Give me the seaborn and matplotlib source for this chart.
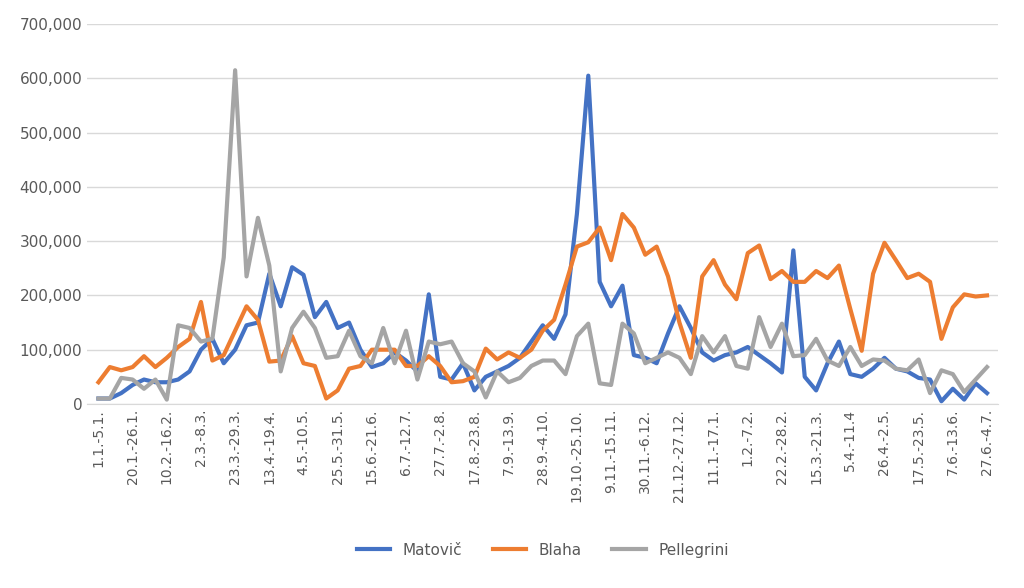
import matplotlib
matplotlib.use("Agg")
import matplotlib.pyplot as plt
import seaborn as sns
import pandas as pd
from matplotlib.ticker import FuncFormatter

tick_labels = ["1.1.-5.1.","20.1.-26.1.","10.2.-16.2.","2.3.-8.3.","23.3.-29.3.","13.4.-19.4.",
    "4.5.-10.5.","25.5.-31.5.","15.6.-21.6.","6.7.-12.7.","27.7.-2.8.","17.8.-23.8.","7.9.-13.9.",
    "28.9.-4.10.","19.10.-25.10.","9.11.-15.11.","30.11.-6.12.","21.12.-27.12.","11.1.-17.1.",
    "1.2.-7.2.","22.2.-28.2.","15.3.-21.3.","5.4.-11.4","26.4.-2.5.","17.5.-23.5.","7.6.-13.6.","27.6.-4.7."]

matovic = [10,10,20,35,45,40,40,45,60,100,120,75,100,145,150,240,180,252,238,160,188,140,150,100,68,75,95,80,60,202,
           50,45,75,25,50,60,70,85,115,145,120,165,350,605,225,180,218,90,85,75,130,180,140,95,80,90,95,105,90,75,
           58,283,50,25,75,115,55,50,65,85,65,60,48,45,5,28,8,38,20]
blaha = [40,68,62,68,88,68,85,105,120,188,80,90,135,180,155,78,80,125,75,70,10,25,65,70,100,100,100,70,70,88,
         70,40,42,50,102,82,95,85,100,135,155,220,290,298,325,265,350,325,275,290,235,150,85,235,265,220,193,278,292,230,
         245,225,225,245,232,255,175,98,240,297,265,232,240,225,120,178,202,198,200]
pellegrini = [10,10,48,45,28,45,8,145,140,115,120,270,615,235,343,255,60,140,170,140,85,88,135,88,75,140,75,135,45,115,
              110,115,75,60,12,60,40,48,70,80,80,55,125,148,38,35,148,130,75,85,95,85,55,125,95,125,70,65,160,105,
              148,88,90,120,80,70,105,70,82,80,65,62,82,20,62,55,22,45,68]

rows = []
for name, vals in [("Matovič", matovic), ("Blaha", blaha), ("Pellegrini", pellegrini)]:
    for i, v in enumerate(vals):
        rows.append({"week": i, "value": v * 1000, "series": name})
df = pd.DataFrame(rows)

fig, ax = plt.subplots(figsize=(10.24, 5.88), dpi=100)
fig.subplots_adjust(left=0.085, right=0.975, top=0.959, bottom=0.313)
sns.lineplot(data=df, x="week", y="value", hue="series",
             palette=["#4472C4", "#ED7D31", "#A5A5A5"], linewidth=3, ax=ax)
ax.set_ylim(0, 700000)
ax.set_yticks(range(0, 700001, 100000))
ax.yaxis.set_major_formatter(FuncFormatter(lambda v, p: f"{int(v):,}"))
ax.set_xlim(-1, len(matovic))
ax.set_xticks(range(0, len(matovic), 3))
ax.set_xticklabels(tick_labels, rotation=90)
ax.tick_params(axis="x", labelsize=10, colors="#595959", length=0)
ax.tick_params(axis="y", labelsize=11, colors="#595959", length=0)
ax.grid(axis="y", color="#D9D9D9", linewidth=1)
ax.set_axisbelow(True)
for s in ["top", "right", "left"]:
    ax.spines[s].set_visible(False)
ax.spines["bottom"].set_color("#D9D9D9")
ax.set_xlabel("")
ax.set_ylabel("")
ax.legend(loc="center", bbox_to_anchor=(0.5, -0.385), ncol=3, frameon=False,
          fontsize=11, labelcolor="#595959", handlelength=2.2)
fig.savefig("out.png", dpi=100)
